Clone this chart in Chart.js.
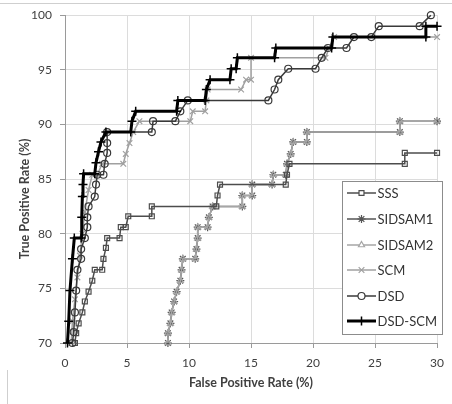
<!DOCTYPE html>
<html>
<head>
<meta charset="utf-8">
<script src="https://cdn.jsdelivr.net/npm/chart.js@4.4.1/dist/chart.umd.min.js"></script>
<style>
  html, body { margin: 0; padding: 0; background: #ffffff; }
  #wrap { width: 452px; height: 404px; position: relative; }
</style>
</head>
<body>
<div id="wrap"><canvas id="c" width="452" height="404"></canvas></div>
<script>
// ---- data ----
const xTicks = [0, 5, 10, 15, 20, 25, 30];
const yTicks = [70, 75, 80, 85, 90, 95, 100];
const seriesNames = ["SSS", "SIDSAM1", "SIDSAM2", "SCM", "DSD", "DSD-SCM"];

const sssX = [0.8, 0.9, 1.1, 1.4, 1.6, 1.9, 2.2, 2.4, 3.0, 3.1, 3.3, 3.4, 4.4, 4.5, 4.9, 5.1, 7.0, 7.0, 12.2, 12.3, 12.5, 17.8, 17.9, 18.1, 27.4, 27.4, 30];
const sssY = [70, 70.9, 71.8, 72.8, 73.8, 74.7, 75.7, 76.7, 76.7, 77.7, 78.7, 79.6, 79.6, 80.6, 80.6, 81.6, 81.6, 82.5, 82.5, 83.5, 84.5, 84.5, 85.4, 86.4, 86.4, 87.4, 87.4];

const sidsam1X = [8.3, 8.3, 8.5, 8.6, 8.8, 9.0, 9.3, 9.4, 9.5, 10.5, 10.6, 10.7, 10.7, 11.5, 11.6, 11.9, 14.3, 14.3, 15.1, 15.1, 16.7, 16.8, 17.8, 17.9, 18.2, 18.4, 19.5, 19.5, 27.0, 27.0, 30];
const sidsam1Y = [70, 70.9, 71.8, 72.8, 73.8, 74.7, 75.7, 76.7, 77.7, 77.7, 78.6, 79.6, 80.6, 80.6, 81.5, 82.5, 82.5, 83.5, 83.5, 84.5, 84.5, 85.4, 85.4, 86.4, 87.3, 88.4, 88.4, 89.3, 89.3, 90.3, 90.3];

const sidsam2X = [8.3, 8.3, 8.5, 8.6, 8.8, 9.0, 9.3, 9.4, 9.5, 10.5, 10.6, 10.7, 10.7, 11.5, 11.6, 11.9, 14.3, 14.3, 15.1, 15.1, 16.7, 16.8, 17.8, 17.9, 18.2, 18.4, 19.5, 19.5, 27.0, 27.0, 30];
const sidsam2Y = [70, 70.9, 71.8, 72.8, 73.8, 74.7, 75.7, 76.7, 77.7, 77.7, 78.6, 79.6, 80.6, 80.6, 81.5, 82.5, 82.5, 83.5, 83.5, 84.5, 84.5, 85.4, 85.4, 86.4, 87.3, 88.4, 88.4, 89.3, 89.3, 90.3, 90.3];

const scmX = [0.5, 0.6, 0.8, 1.0, 1.2, 1.4, 1.6, 1.9, 2.2, 2.6, 3.0, 4.7, 4.9, 5.2, 5.5, 6.0, 10.1, 10.3, 11.3, 11.4, 11.5, 14.2, 14.6, 15.0, 15.0, 21.0, 21.3, 21.7, 30];
const scmY = [70, 72, 74, 76, 78, 80, 82, 84, 85.4, 85.4, 86.4, 86.4, 87.3, 88.3, 89.3, 90.3, 90.3, 91.2, 91.2, 92.2, 93.2, 93.2, 94.1, 94.1, 96.1, 96.1, 97.0, 98.0, 98.0];

const dsdX = [0.6, 0.7, 0.8, 0.9, 1.0, 1.3, 1.3, 1.6, 1.8, 1.8, 1.9, 2.4, 2.5, 2.6, 3.1, 3.2, 3.4, 3.4, 3.4, 7.0, 7.1, 8.9, 9.3, 9.9, 16.4, 16.9, 17.2, 18.0, 20.2, 20.7, 21.2, 22.7, 23.3, 24.7, 25.3, 28.6, 29.5];
const dsdY = [70, 71, 72.8, 74.8, 76.7, 77.7, 78.6, 79.6, 80.6, 81.5, 82.5, 83.4, 84.5, 85.4, 85.4, 86.4, 87.4, 88.3, 89.3, 89.3, 90.3, 90.3, 91.2, 92.2, 92.2, 93.2, 94.1, 95.1, 95.1, 96.1, 97.0, 97.0, 98.0, 98.0, 99.0, 99.0, 100];

const dsdScmX = [0.2, 0.3, 0.4, 0.6, 0.75, 1.3, 1.35, 1.4, 1.45, 1.5, 2.4, 2.5, 2.7, 2.9, 3.3, 5.3, 5.4, 5.7, 9.0, 9.1, 11.3, 11.4, 11.7, 13.3, 13.4, 13.8, 13.9, 16.9, 17.0, 21.5, 21.6, 29.1, 29.1, 30];
const dsdScmY = [70, 72, 74.8, 77.7, 79.6, 79.6, 81.5, 83.4, 84.5, 85.5, 85.5, 86.5, 87.5, 88.4, 89.3, 89.3, 90.3, 91.2, 91.2, 92.2, 92.2, 93.2, 94.1, 94.1, 95.1, 95.1, 96.1, 96.1, 97.0, 97.0, 98.0, 98.0, 99.0, 99.0];

// ---- build datasets ----
function pts(xs, ys) { return xs.map((x, i) => ({ x: x, y: ys[i] })); }

const styles = [
  { color: '#4d4d4d', width: 1.5, point: 'rect',     radius: 3.5, order: 3 },
  { color: '#555555', width: 1.5, point: 'star',     radius: 4,   order: 6 },
  { color: '#a6a6a6', width: 1.5, point: 'triangle', radius: 3.5, order: 5 },
  { color: '#a0a0a0', width: 1.5, point: 'crossRot', radius: 4,   order: 4 },
  { color: '#3a3a3a', width: 1.5, point: 'circle',   radius: 3.5, order: 2 },
  { color: '#000000', width: 3,   point: 'cross',    radius: 4.5, order: 1 }
];
const xsList = [sssX, sidsam1X, sidsam2X, scmX, dsdX, dsdScmX];
const ysList = [sssY, sidsam1Y, sidsam2Y, scmY, dsdY, dsdScmY];

const datasets = seriesNames.map((name, i) => ({
  label: name,
  data: pts(xsList[i], ysList[i]),
  borderColor: styles[i].color,
  borderWidth: styles[i].width,
  pointStyle: styles[i].point,
  pointRadius: styles[i].radius,
  pointBorderColor: styles[i].color,
  pointBorderWidth: i === 5 ? 1.5 : 1.2,
  pointBackgroundColor: 'rgba(255,255,255,0)',
  backgroundColor: 'rgba(255,255,255,0)',
  fill: false,
  tension: 0,
  order: styles[i].order,
  clip: 8
}));

const FONT = 'Lato, "Open Sans", "Liberation Sans", sans-serif';
const TXT = '#404040';

const framePlugin = {
  id: 'frame',
  beforeDraw(chart) {
    const ctx = chart.ctx;
    ctx.save();
    ctx.fillStyle = '#ffffff';
    ctx.fillRect(0, 0, chart.width, chart.height);
    ctx.strokeStyle = '#cfcfcf';
    ctx.lineWidth = 1;
    ctx.beginPath();
    ctx.moveTo(0, 3.5); ctx.lineTo(chart.width, 3.5);
    ctx.moveTo(7.5, 370); ctx.lineTo(7.5, chart.height);
    ctx.stroke();
    ctx.restore();
  },
  afterDraw(chart) {
    const ctx = chart.ctx;
    ctx.save();
    // y axis title
    ctx.translate(25, 199);
    ctx.rotate(-Math.PI / 2);
    ctx.font = 'bold 12.5px ' + FONT;
    ctx.fillStyle = TXT;
    ctx.textAlign = 'center';
    ctx.textBaseline = 'middle';
    ctx.fillText('True Positive Rate (%)', 0, 0);
    ctx.restore();

    // legend box
    const bx = 342.5, by = 181.5, bw = 100, bh = 153;
    ctx.save();
    ctx.fillStyle = '#ffffff';
    ctx.fillRect(bx, by, bw, bh);
    ctx.strokeStyle = '#8c8c8c';
    ctx.lineWidth = 1;
    ctx.strokeRect(bx, by, bw, bh);
    const rows = [193, 219, 245, 270, 296, 321];
    datasets.forEach((ds, i) => {
      const y = rows[i];
      ctx.strokeStyle = ds.borderColor;
      ctx.lineWidth = ds.borderWidth;
      ctx.beginPath();
      ctx.moveTo(347, y); ctx.lineTo(376, y);
      ctx.stroke();
      ctx.lineWidth = ds.pointBorderWidth;
      ctx.fillStyle = '#ffffff';
      if (Chart.helpers && Chart.helpers.drawPoint) {
        Chart.helpers.drawPoint(ctx, { pointStyle: ds.pointStyle, radius: ds.pointRadius, rotation: 0, borderWidth: ds.pointBorderWidth }, 361.5, y);
      }
      ctx.fillStyle = '#333333';
      ctx.font = '13px ' + FONT;
      ctx.textAlign = 'left';
      ctx.textBaseline = 'middle';
      ctx.fillText(ds.label, 377.5, y + 0.5);
    });
    ctx.restore();
  }
};

new Chart(document.getElementById('c'), {
  type: 'line',
  data: { datasets: datasets },
  options: {
    responsive: false,
    animation: false,
    devicePixelRatio: 1,
    layout: { padding: { top: 14, right: 10, left: 0, bottom: 0 } },
    plugins: { legend: { display: false }, tooltip: { enabled: false } },
    scales: {
      x: {
        type: 'linear',
        min: xTicks[0], max: xTicks[xTicks.length - 1],
        afterBuildTicks: s => { s.ticks = xTicks.map(v => ({ value: v })); },
        afterFit: s => { s.height = 61; },
        grid: { color: '#dcdcdc', tickColor: '#9a9a9a', tickLength: 5, lineWidth: 1 },
        border: { color: '#9a9a9a', width: 1 },
        ticks: { font: { family: FONT, size: 12 }, color: TXT, padding: 8, maxRotation: 0 },
        title: { display: true, text: 'False Positive Rate (%)', font: { family: FONT, size: 12.5, weight: 'bold' }, color: TXT, padding: { top: 0, bottom: 14 } }
      },
      y: {
        type: 'linear',
        min: yTicks[0], max: yTicks[yTicks.length - 1],
        afterBuildTicks: s => { s.ticks = yTicks.map(v => ({ value: v })); },
        afterFit: s => { s.width = 65; },
        grid: { color: '#dcdcdc', tickColor: '#9a9a9a', tickLength: 5, lineWidth: 1 },
        border: { color: '#9a9a9a', width: 1 },
        ticks: { font: { family: FONT, size: 12 }, color: TXT, padding: 8 }
      }
    }
  },
  plugins: [framePlugin]
});
</script>
</body>
</html>
